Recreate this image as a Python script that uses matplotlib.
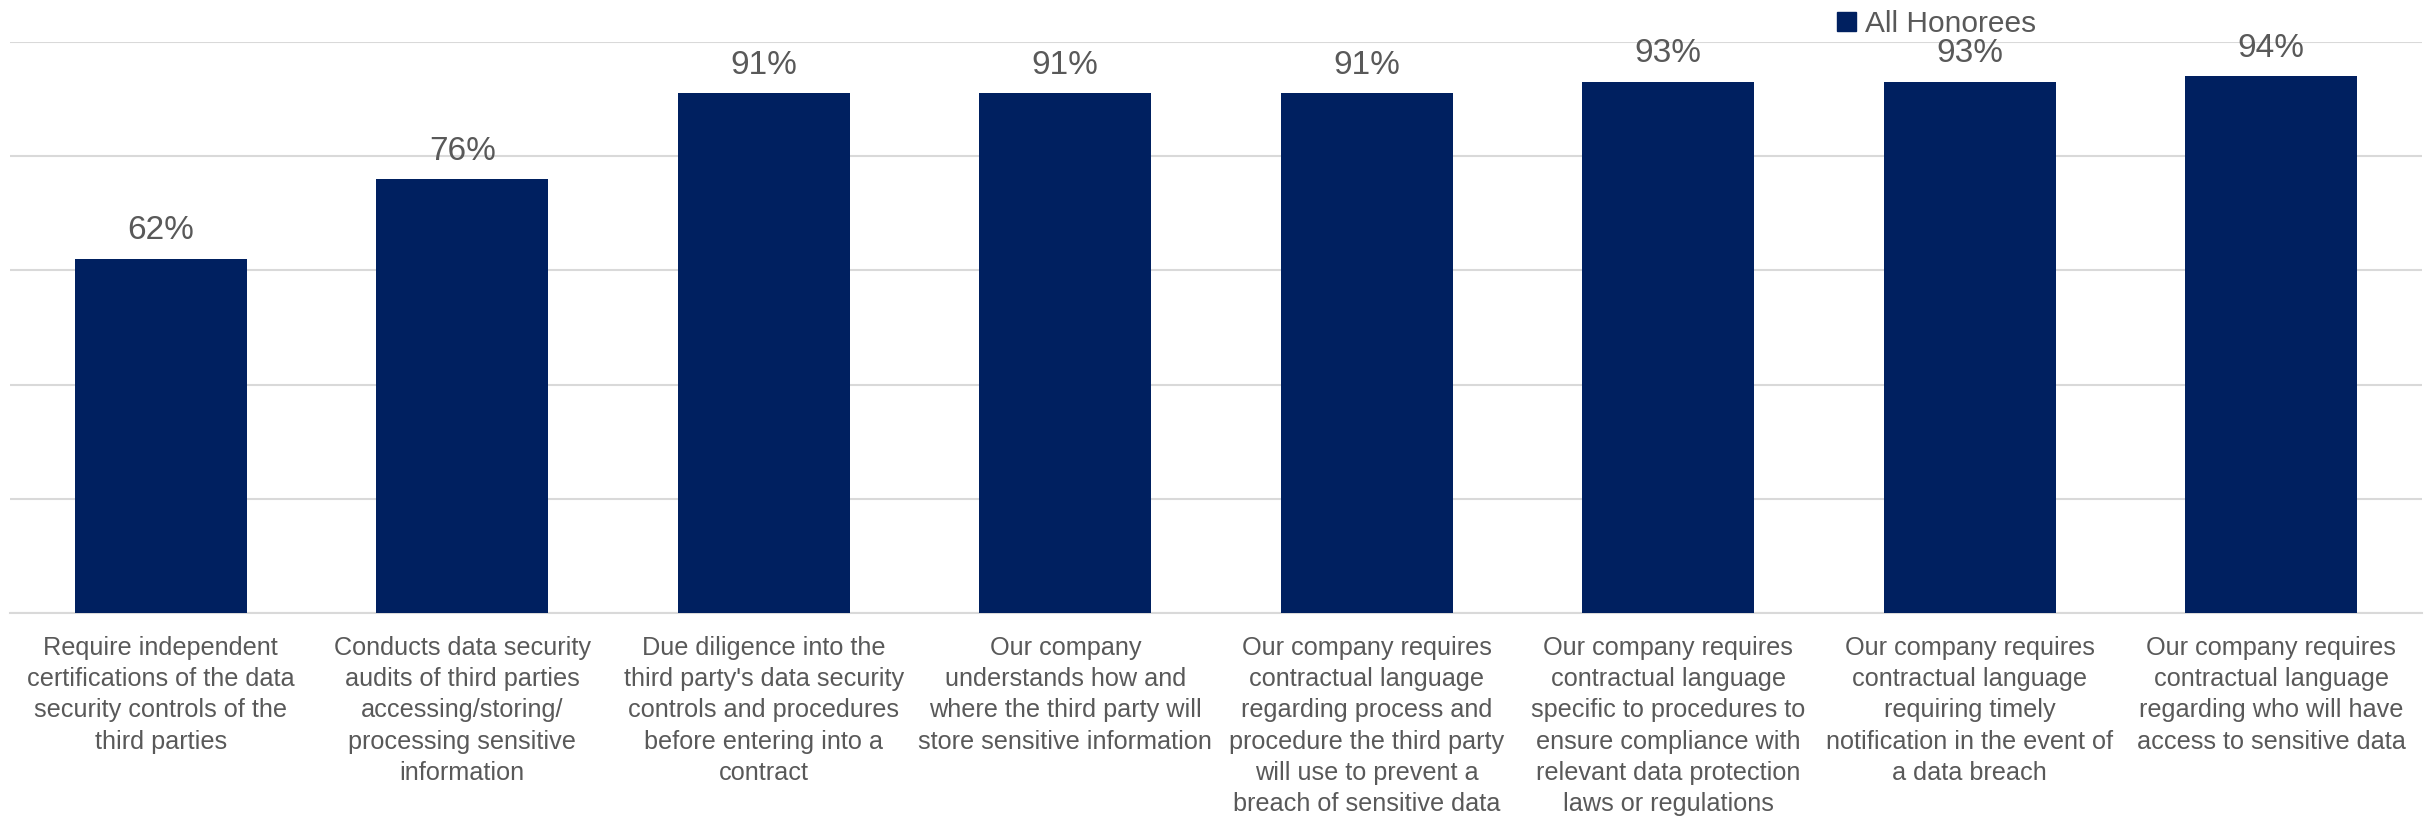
import matplotlib
matplotlib.use("Agg")
import matplotlib.pyplot as plt
from matplotlib.patches import Patch

# datos
categorias = [
    "Require independent\ncertifications of the data\nsecurity controls of the\nthird parties",
    "Conducts data security\naudits of third parties\naccessing/storing/\nprocessing sensitive\ninformation",
    "Due diligence into the\nthird party's data security\ncontrols and procedures\nbefore entering into a\ncontract",
    "Our company\nunderstands how and\nwhere the third party will\nstore sensitive information",
    "Our company requires\ncontractual language\nregarding process and\nprocedure the third party\nwill use to prevent a\nbreach of sensitive data",
    "Our company requires\ncontractual language\nspecific to procedures to\nensure compliance with\nrelevant data protection\nlaws or regulations",
    "Our company requires\ncontractual language\nrequiring timely\nnotification in the event of\na data breach",
    "Our company requires\ncontractual language\nregarding who will have\naccess to sensitive data",
]
valores = [62, 76, 91, 91, 91, 93, 93, 94]
serie = "All Honorees"

azul = "#002060"
gris = "#595959"

plt.rcParams['font.family'] = ['Liberation Sans Narrow', 'Liberation Sans', 'DejaVu Sans']

fig = plt.figure(figsize=(24.3, 8.23), dpi=100)
ax = fig.add_axes([10/2430, 1 - 613/823, 2412/2430, (613 - 42)/823])

x = range(len(valores))
bars = ax.bar(x, valores, width=0.57, color=azul, zorder=3)

for xi, v in zip(x, valores):
    ax.annotate(f"{v}%", (xi, v), xytext=(0, 9), textcoords="offset points",
                ha="center", va="bottom", fontsize=24, color=gris)

ax.set_xlim(-0.5, len(valores) - 0.5)
ax.set_ylim(0, 100)
ax.set_yticks(range(0, 101, 20))
ax.yaxis.grid(True, color="#d9d9d9", linewidth=1.5, zorder=0)
ax.tick_params(axis="y", left=False, labelleft=False)
ax.tick_params(axis="x", bottom=False, pad=13)
ax.set_xticks(list(x))
ax.set_xticklabels(categorias, fontsize=18.2, color=gris, linespacing=1.38, va="top")
for s in ["top", "right", "left"]:
    ax.spines[s].set_visible(False)
ax.spines["bottom"].set_color("#d9d9d9")
ax.spines["bottom"].set_linewidth(1.5)

ax.legend(handles=[Patch(color=azul, label=serie)], loc="upper left",
          bbox_to_anchor=(1822/2430, 1.006), bbox_transform=fig.transFigure,
          frameon=False, fontsize=21.5, labelcolor=gris,
          handlelength=0.65, handleheight=0.65, handletextpad=0.3, borderpad=0.0)

fig.savefig("out.png", dpi=100)
